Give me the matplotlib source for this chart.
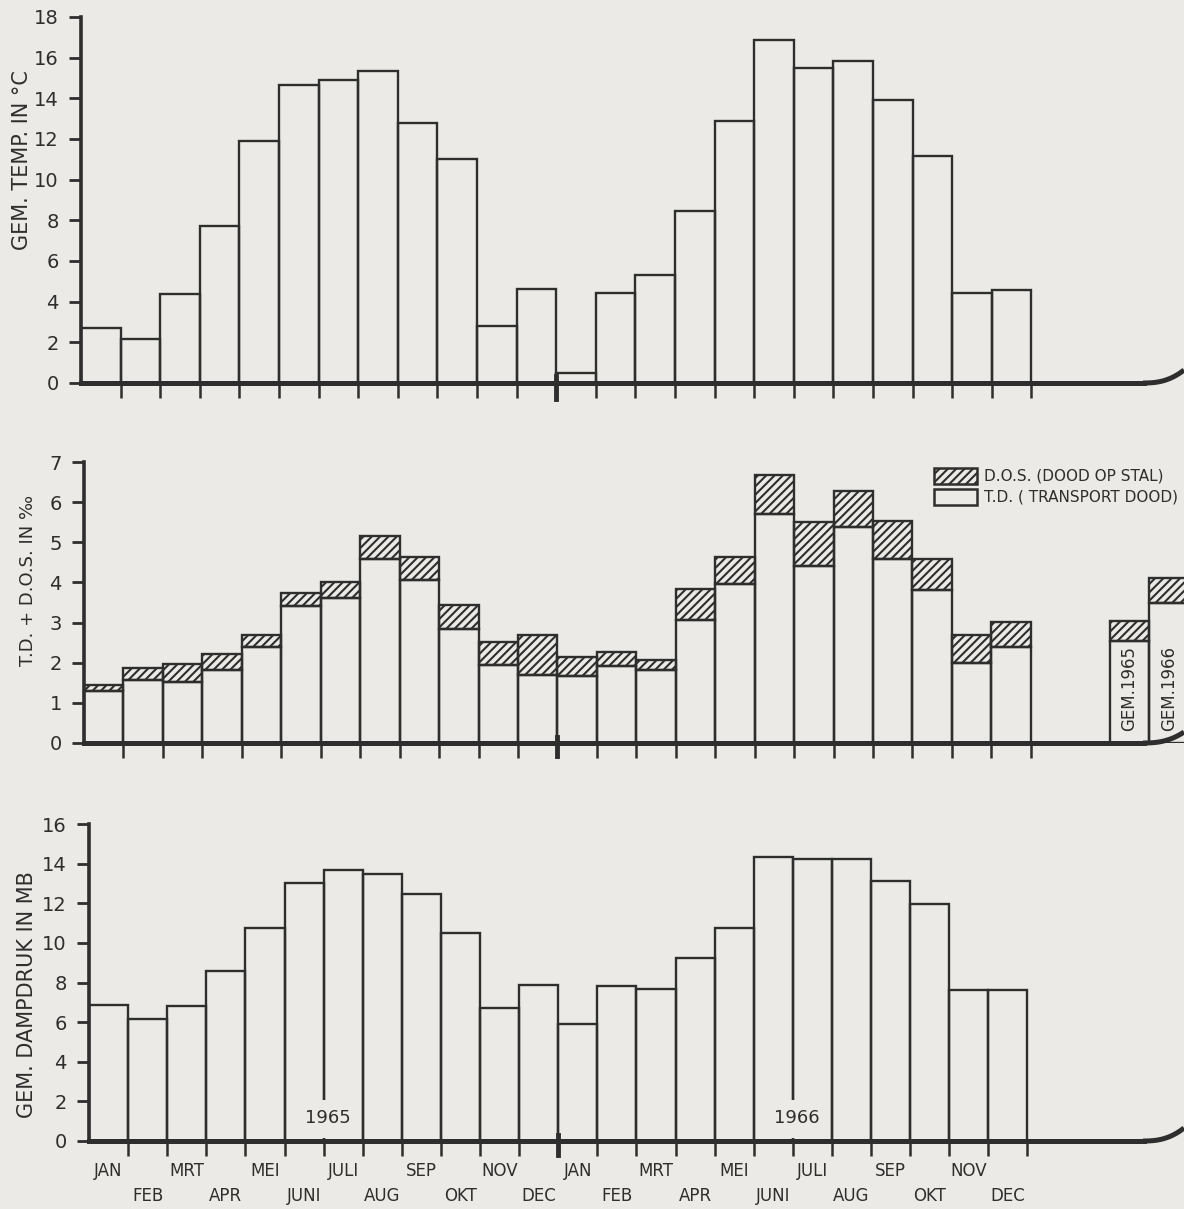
import numpy as np
import matplotlib
matplotlib.use('Agg')
from matplotlib import pyplot as plt
from matplotlib.patches import Rectangle
from matplotlib.lines import Line2D

plt.rcParams['hatch.linewidth'] = 1.5

# maandnamen (nederlands) en meetwaarden per maand
maanden = ['JAN', 'FEB', 'MRT', 'APR', 'MEI', 'JUNI', 'JULI', 'AUG', 'SEP', 'OKT', 'NOV', 'DEC']
jaren = ['1965', '1966']

temp_1965 = [2.7, 2.15, 4.4, 7.7, 11.9, 14.65, 14.9, 15.35, 12.8, 11.0, 2.8, 4.6]
temp_1966 = [0.5, 4.45, 5.3, 8.45, 12.9, 16.85, 15.5, 15.85, 13.9, 11.15, 4.45, 4.55]

td_1965 = [1.3, 1.57, 1.53, 1.82, 2.38, 3.42, 3.6, 4.58, 4.06, 2.83, 1.94, 1.7]
dos_1965 = [0.15, 0.31, 0.44, 0.4, 0.3, 0.32, 0.42, 0.57, 0.58, 0.62, 0.58, 0.99]
td_1966 = [1.66, 1.92, 1.82, 3.07, 3.96, 5.7, 4.41, 5.37, 4.58, 3.81, 2.0, 2.4]
dos_1966 = [0.48, 0.34, 0.25, 0.77, 0.68, 0.97, 1.1, 0.9, 0.95, 0.77, 0.68, 0.62]
gem_labels = ['GEM.1965', 'GEM.1966']
gem_td = [2.55, 3.5]
gem_dos = [0.49, 0.6]

damp_1965 = [6.85, 6.15, 6.8, 8.6, 10.75, 13.0, 13.7, 13.5, 12.45, 10.5, 6.7, 7.85]
damp_1966 = [5.9, 7.8, 7.65, 9.25, 10.75, 14.35, 14.25, 14.25, 13.1, 11.95, 7.6, 7.6]

ink = '#2e2e2e'
bg = '#ebeae6'
W, H = 1184, 1209

temp = temp_1965 + temp_1966
td = td_1965 + td_1966
dos = dos_1965 + dos_1966
damp = damp_1965 + damp_1966
x = np.arange(24)

fig = plt.figure(figsize=(W / 100, H / 100), dpi=100)
fig.patch.set_facecolor(bg)


def paneel(left, y0, ytop, maand_px, ymax, stap, krul):
    # as in pixels van de scan: links, y van nul, y van bovenste tick
    ax = fig.add_axes([left / W, (H - y0) / H, (W - left) / W, (y0 - ytop) / H])
    ax.set_facecolor('none')
    ax.set_xlim(0, (W - left) / maand_px)
    ax.set_ylim(0, ymax)
    for s in ['top', 'right']:
        ax.spines[s].set_visible(False)
    ax.spines['left'].set_linewidth(2.6)
    ax.spines['bottom'].set_linewidth(3.6)
    ax.spines['left'].set_color(ink)
    ax.spines['bottom'].set_color(ink)
    ax.spines['left'].set_bounds(0, ymax)
    ax.spines['bottom'].set_bounds(0, (W - 40 - left) / maand_px)
    ax.set_yticks(np.arange(0, ymax + 0.01, stap))
    ax.tick_params(axis='y', direction='out', length=9, width=2, labelsize=14, pad=7, colors=ink)
    ax.set_xticks(np.arange(1, 25))
    ax.set_xticklabels([])
    ax.tick_params(axis='x', direction='out', length=11, width=1.8, colors=ink)
    # jaargrens
    ax.plot([12, 12], [-ymax * 0.045, ymax * 0.02], color=ink, lw=3.5, clip_on=False, zorder=4)
    # omgekrulde pagina aan de rechterkant
    t = np.linspace(0, 1, 30)
    cx = (W - 41 + 41 * t) / W
    cy = (H - y0 + krul * t ** 2.5) / H
    fig.add_artist(Line2D(cx, cy, transform=fig.transFigure, color=ink, lw=3.6,
                          solid_capstyle='butt'))
    return ax


# temperatuur
ax1 = paneel(81, 383, 17, 39.6, 18, 2, 13)
ax1.bar(x, temp, width=1, align='edge', fill=False, edgecolor=ink, lw=1.7)
fig.text(22 / W, 1 - 160 / H, 'GEM. TEMP. IN °C', rotation=90, ha='center', va='center',
         fontsize=15, color=ink)

# transport dood + dood op stal
ax2 = paneel(84, 743, 462, 39.45, 7, 1, 11)
ax2.bar(x, td, width=1, align='edge', fill=False, edgecolor=ink, lw=1.7)
ax2.bar(x, dos, bottom=td, width=1, align='edge', facecolor='none', edgecolor=ink, lw=1.7,
        hatch='////')
gx = np.array([26, 27])
ax2.bar(gx, gem_td, width=1, align='edge', fill=False, edgecolor=ink, lw=1.7)
ax2.bar(gx, gem_dos, bottom=gem_td, width=1, align='edge', facecolor='none', edgecolor=ink,
        lw=1.7, hatch='////')
for xi, lab in zip(gx, gem_labels):
    ax2.text(xi + 0.5, 0.3, lab, rotation=90, ha='center', va='bottom', fontsize=12, color=ink)
fig.text(28 / W, 1 - 580 / H, 'T.D. + D.O.S. IN ‰', rotation=90, ha='center', va='center',
         fontsize=13, color=ink)

# legenda
fig.add_artist(Rectangle((934 / W, 1 - 484 / H), 43 / W, 16 / H, transform=fig.transFigure,
                         facecolor='none', edgecolor=ink, lw=1.8, hatch='////'))
fig.add_artist(Rectangle((934 / W, 1 - 505 / H), 43 / W, 16 / H, transform=fig.transFigure,
                         facecolor='none', edgecolor=ink, lw=1.8))
fig.text(984 / W, 1 - 476 / H, 'D.O.S. (DOOD OP STAL)', ha='left', va='center', fontsize=11,
         color=ink)
fig.text(984 / W, 1 - 497 / H, 'T.D. ( TRANSPORT DOOD)', ha='left', va='center', fontsize=11,
         color=ink)

# dampdruk
ax3 = paneel(89, 1141, 824, 39.1, 16, 2, 13)
ax3.bar(x, damp, width=1, align='edge', fill=False, edgecolor=ink, lw=1.7)
for i, jaar in enumerate(jaren):
    xm = 6 + 12 * i
    ax3.add_patch(Rectangle((xm - 0.3, 0.15), 0.6, 1.9, facecolor=bg, edgecolor='none', zorder=3))
    ax3.text(xm + 0.1, 1.15, jaar, ha='center', va='center', fontsize=13, color=ink, zorder=4)
fig.text(27 / W, 1 - 995 / H, 'GEM. DAMPDRUK IN MB', rotation=90, ha='center', va='center',
         fontsize=15, color=ink)

for i in range(24):
    rij = -0.095 if i % 2 == 0 else -0.172
    ax3.text(i + 0.5, rij, maanden[i % 12], transform=ax3.get_xaxis_transform(),
             ha='center', va='center', fontsize=12, color=ink)

fig.savefig('out.png', dpi=100, facecolor=bg)
